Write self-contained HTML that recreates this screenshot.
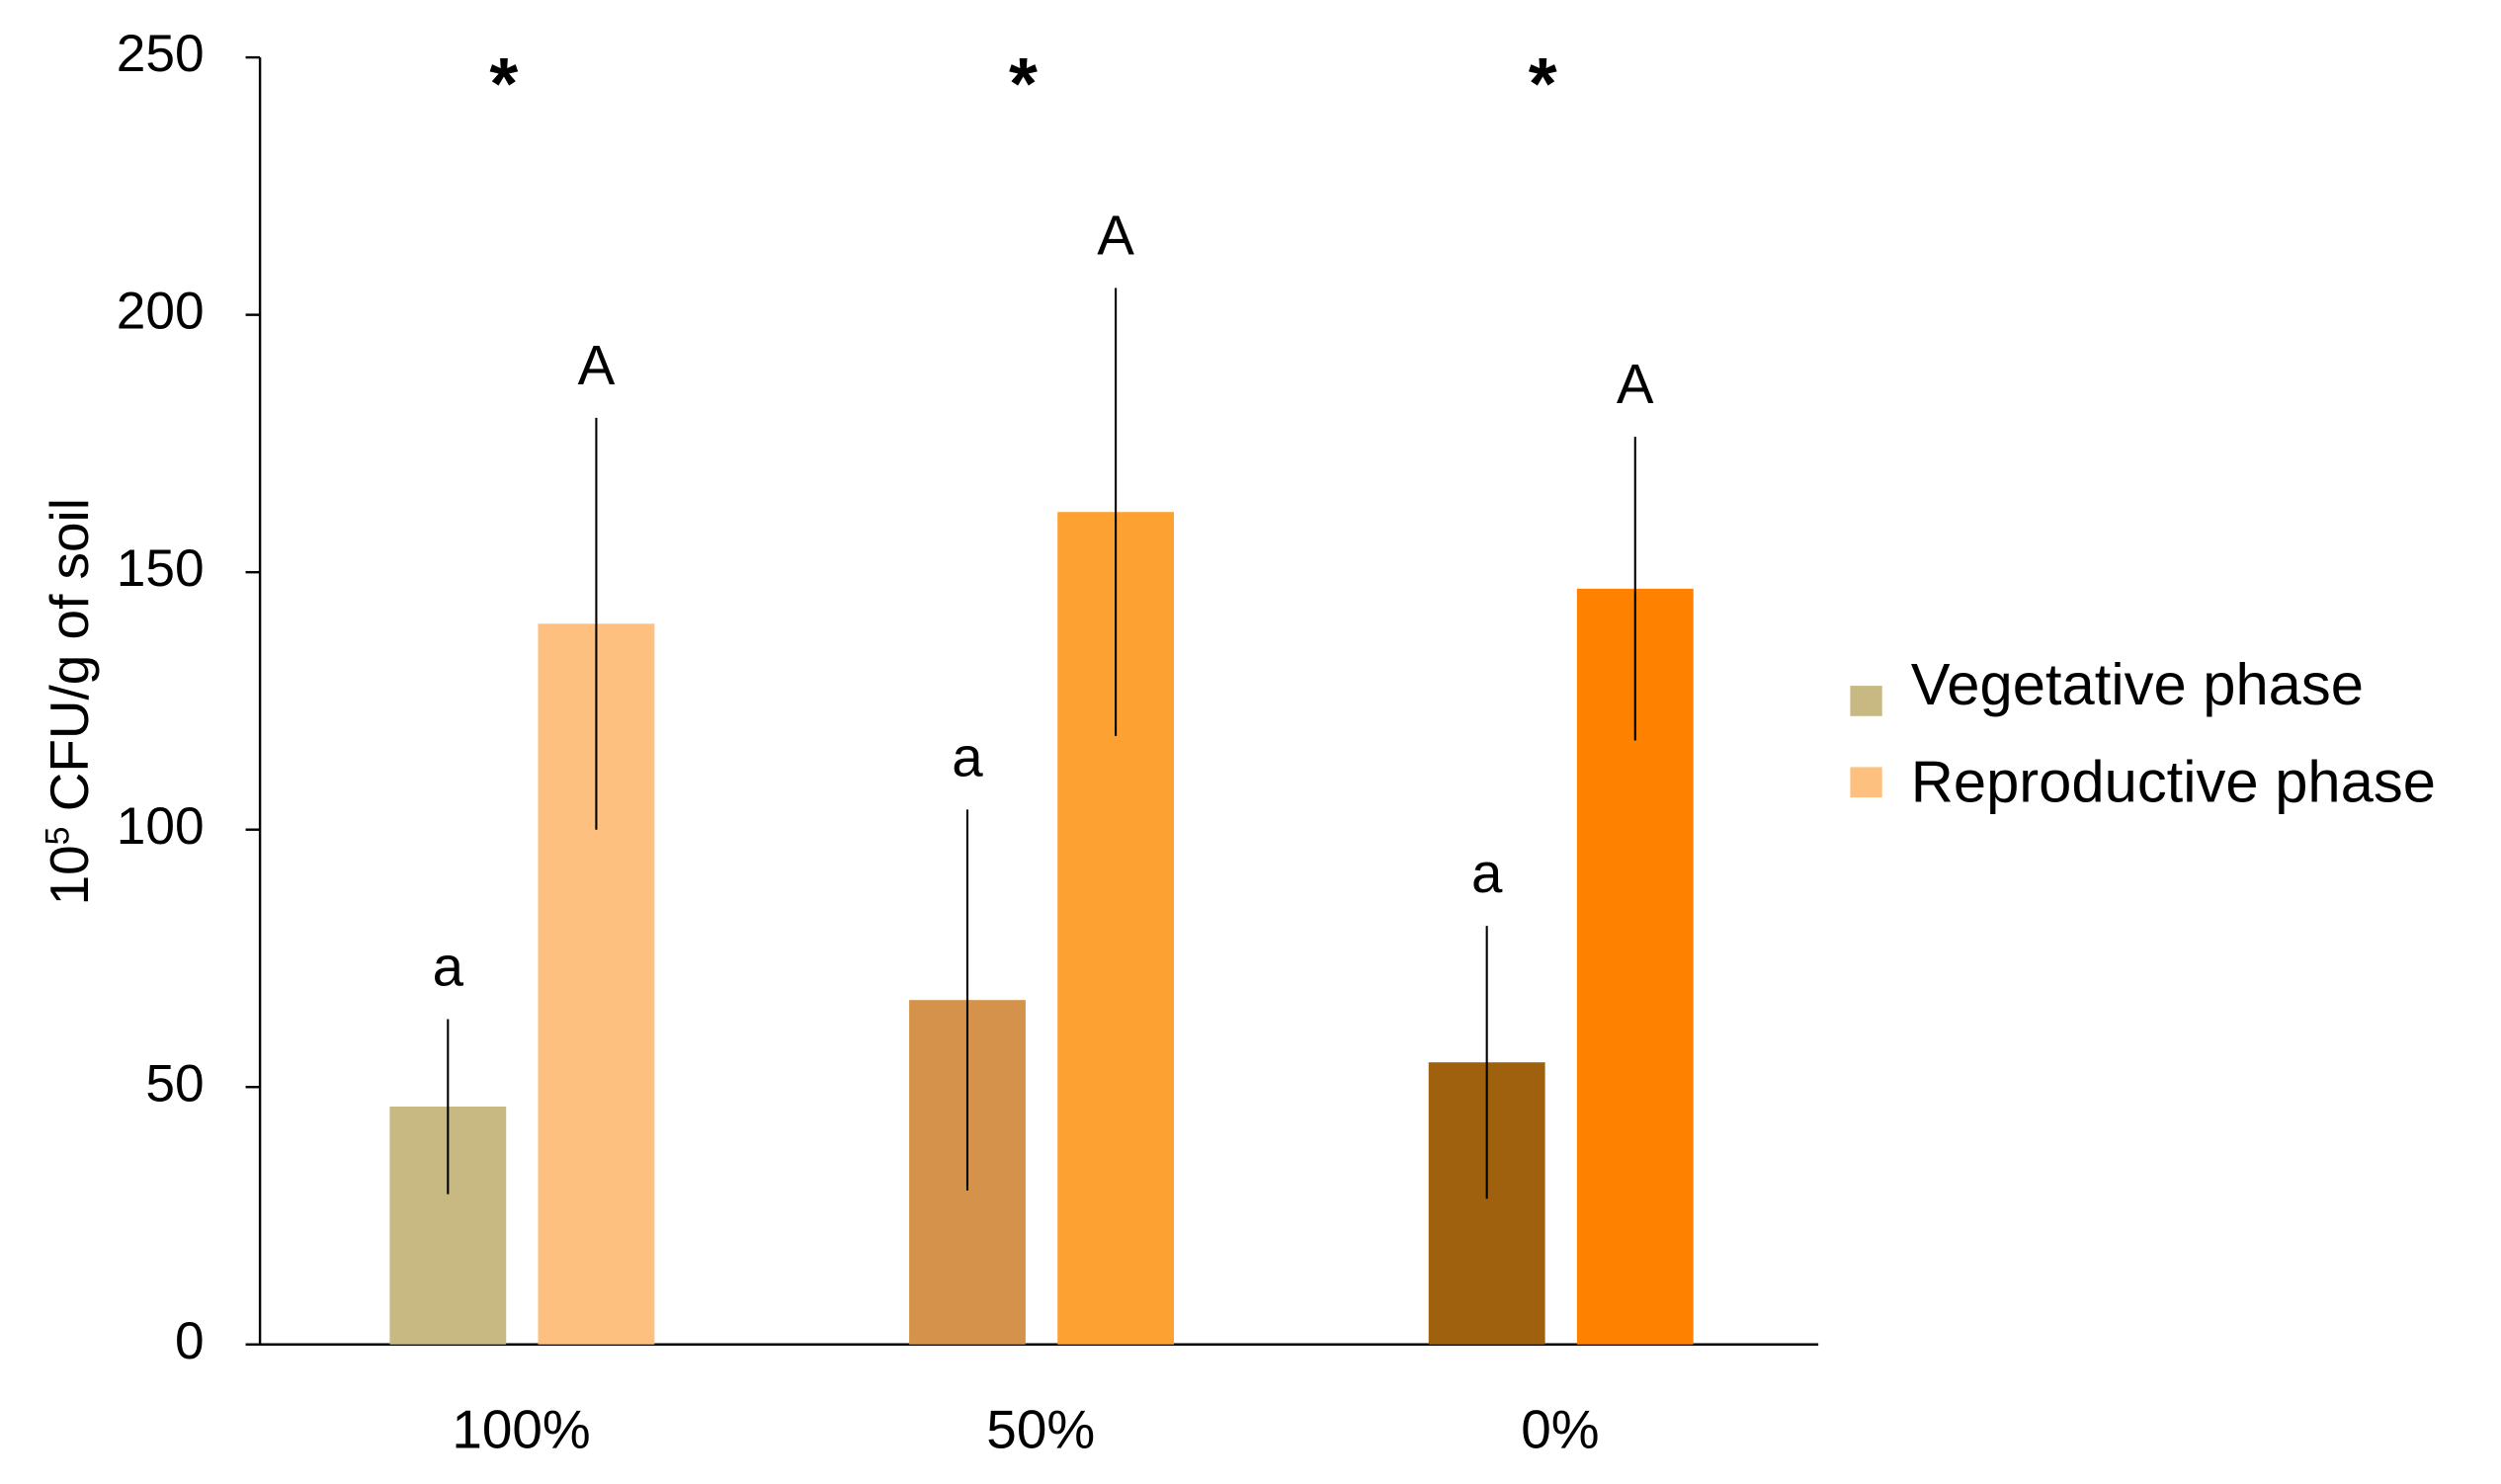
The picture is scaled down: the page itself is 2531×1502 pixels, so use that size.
<!DOCTYPE html>
<html><head><meta charset="utf-8"><style>
html,body{margin:0;padding:0;background:#fff}
svg{display:block}
text{font-family:"Liberation Sans",sans-serif;fill:#000}
</style></head><body>
<svg id="chart" width="2531" height="1502" viewBox="0 0 1568 930.5" preserveAspectRatio="none" xmlns="http://www.w3.org/2000/svg">
<g id="axes"></g>
<g id="bars"></g>
<text transform="translate(55,440) rotate(-90)" text-anchor="middle" font-size="34">10<tspan font-size="21" dy="-12">5</tspan><tspan dy="12"> CFU/g of soil</tspan></text>
<g>
<rect x="1160" y="430" width="20" height="19" fill="#C8B882"/>
<text x="1198" y="432" font-size="37" dominant-baseline="middle">Vegetative phase</text>
<rect x="1160" y="481" width="20" height="19" fill="#FDC07E"/>
<text x="1198" y="493" font-size="37" dominant-baseline="middle">Reproductive phase</text>
</g>
</svg>
<script>
const categories = ["100%", "50%", "0%"];
const vegValues = [46.2, 66.9, 54.8];
const vegErrors = [17, 37, 26.5];
const repValues = [140, 161.7, 146.8];
const repErrors = [40, 43.5, 29.5];
const vegLetters = ["a", "a", "a"];
const repLetters = ["A", "A", "A"];
const stars = ["*", "*", "*"];
const yTicks = [0, 50, 100, 150, 200, 250];
const vegColors = ["#C8B882", "#D4924A", "#A0610E"];
const repColors = ["#FDC07E", "#FDA232", "#FE8200"];

const NS = "http://www.w3.org/2000/svg";
const X0 = 163, X1 = 1140, Y0 = 843, YTOP = 36, YMAX = 250;
const y = v => Y0 - (v / YMAX) * (Y0 - YTOP);
const groupW = (X1 - X0) / categories.length;
const xc = i => X0 + groupW * (i + 0.5);
const barW = 73, gap = 20;
function mk(tag, attrs, parent) {
  const e = document.createElementNS(NS, tag);
  for (const k in attrs) e.setAttribute(k, attrs[k]);
  parent.appendChild(e);
  return e;
}
const axes = document.getElementById('axes');
const bars = document.getElementById('bars');
let el = mk('line', {x1: X0, x2: X0, y1: YTOP, y2: Y0, stroke: '#000', 'stroke-width': 1.5}, axes);


el = mk('line', {x1: X0, x2: X1, y1: Y0, y2: Y0, stroke: '#000', 'stroke-width': 1.5}, axes);


yTicks.forEach(t => {
  const tk = mk('line', {x1: X0 - 9, x2: X0, y1: y(t), y2: y(t), stroke: '#000', 'stroke-width': 1.5}, axes);
  
  
  const lb = mk('text', {x: X0 - 35, y: y(t), 'text-anchor': 'end', 'dominant-baseline': 'middle', 'font-size': 33}, axes);
  lb.textContent = t;
  
  
});
function bar(cx, v, err, color, letter, name) {
  const r = mk('rect', {x: cx - barW / 2, y: y(v), width: barW, height: Y0 - y(v), fill: color}, bars);
  
  
  const e = mk('line', {x1: cx, x2: cx, y1: y(v + err), y2: y(v - err), stroke: '#000', 'stroke-width': 1.3}, bars);
  
  
  const l = mk('text', {x: cx, y: y(v + err) - 21, 'text-anchor': 'middle', 'font-size': 35}, bars);
  l.textContent = letter;
  
  
}
categories.forEach((c, i) => {
  const cx = xc(i);
  const vx = cx - gap / 2 - barW / 2 + 1.5, rx = cx + gap / 2 + barW / 2 + 1.5;
  bar(vx, vegValues[i], vegErrors[i], vegColors[i], vegLetters[i], 'bar-vegetative-' + i);
  bar(rx, repValues[i], repErrors[i], repColors[i], repLetters[i], 'bar-reproductive-' + i);
  const s = mk('text', {x: cx - 10, y: 68, 'text-anchor': 'middle', 'font-size': 46, 'font-weight': 'bold'}, bars);
  s.textContent = stars[i];
  
  
  const lb = mk('text', {x: cx + 1, y: 908, 'text-anchor': 'middle', 'font-size': 34}, axes);
  lb.textContent = c;
  
  
});
</script>
</body></html>
